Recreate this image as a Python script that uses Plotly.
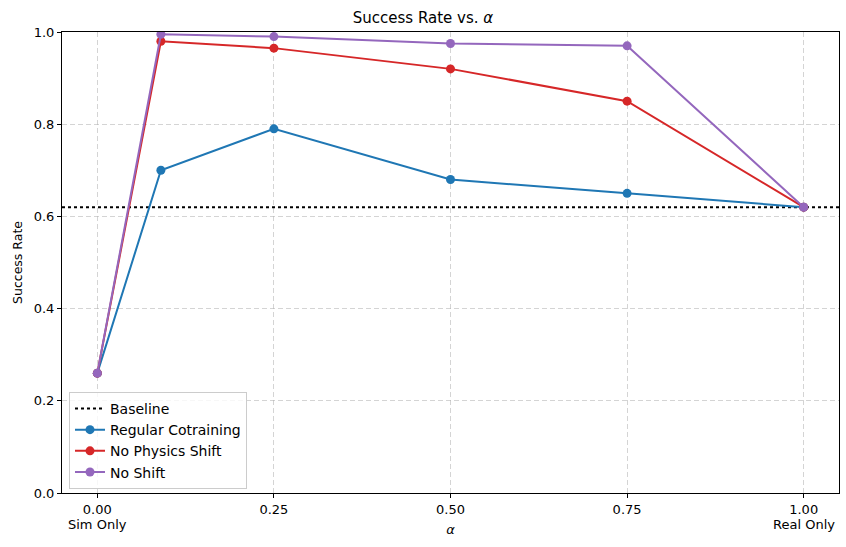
import plotly.graph_objects as go

alpha = [0.0, 0.09, 0.25, 0.5, 0.75, 1.0]
regular = [0.26, 0.70, 0.79, 0.68, 0.65, 0.62]
no_physics = [0.26, 0.98, 0.965, 0.92, 0.85, 0.62]
no_shift = [0.26, 0.995, 0.99, 0.975, 0.97, 0.62]
baseline = 0.62
tick_vals = [0.0, 0.25, 0.5, 0.75, 1.0]
tick_text = ["0.00", "0.25", "0.50", "0.75", "1.00"]
end_labels = [(0.0, "Sim Only"), (1.0, "Real Only")]
y_ticks = [0.0, 0.2, 0.4, 0.6, 0.8, 1.0]

fig = go.Figure()
fig.add_trace(go.Scatter(x=[-0.05, 1.05], y=[baseline, baseline], mode="lines",
                         name="Baseline", line=dict(color="black", dash="dot", width=2)))
series = [("Regular Cotraining", regular, "#1f77b4"),
          ("No Physics Shift", no_physics, "#d62728"),
          ("No Shift", no_shift, "#9467bd")]
for name, vals, col in series:
    fig.add_trace(go.Scatter(x=alpha, y=vals, mode="lines+markers", name=name,
                             line=dict(color=col, width=2),
                             marker=dict(color=col, size=9)))

for xv, txt in end_labels:
    fig.add_annotation(x=xv, xref="x", y=0, yref="paper", yanchor="top",
                       xanchor="center", yshift=-22, showarrow=False,
                       text=txt, font=dict(size=13, color="black"))

grid_col = "rgba(176,176,176,0.55)"
fig.update_layout(
    width=846, height=547,
    paper_bgcolor="white", plot_bgcolor="white",
    font=dict(family="DejaVu Sans", size=13, color="black"),
    margin=dict(l=62, r=7, t=32, b=54),
    title=dict(text="Success Rate vs. <i>α</i>", x=0.5, xanchor="center",
               y=1 - 18 / 547, yanchor="middle", font=dict(size=15)),
    xaxis=dict(range=[-0.05, 1.05], tickvals=tick_vals, ticktext=tick_text,
               showline=True, linecolor="black", linewidth=1, mirror=True,
               ticks="outside", ticklen=4, tickcolor="black",
               showgrid=True, gridcolor=grid_col, griddash="5px,3px",
               zeroline=False, automargin=False,
               title=dict(text="<i>α</i>", standoff=9, font=dict(size=13))),
    yaxis=dict(range=[0, 1], tickvals=y_ticks, tickformat=".1f",
               showline=True, linecolor="black", linewidth=1, mirror=True,
               ticks="outside", ticklen=4, tickcolor="black",
               showgrid=True, gridcolor=grid_col, griddash="5px,3px",
               zeroline=False, automargin=False,
               title=dict(text="Success Rate", standoff=8, font=dict(size=12.5))),
    legend=dict(x=0.009, y=0.009, xanchor="left", yanchor="bottom",
                bgcolor="rgba(255,255,255,0.8)", bordercolor="#cccccc", borderwidth=1,
                font=dict(size=14), tracegroupgap=0),
    showlegend=True,
)
fig.write_html("out.html", config={"displayModeBar": False},
               post_script="document.body.style.margin='0';document.body.style.overflow='hidden';")
